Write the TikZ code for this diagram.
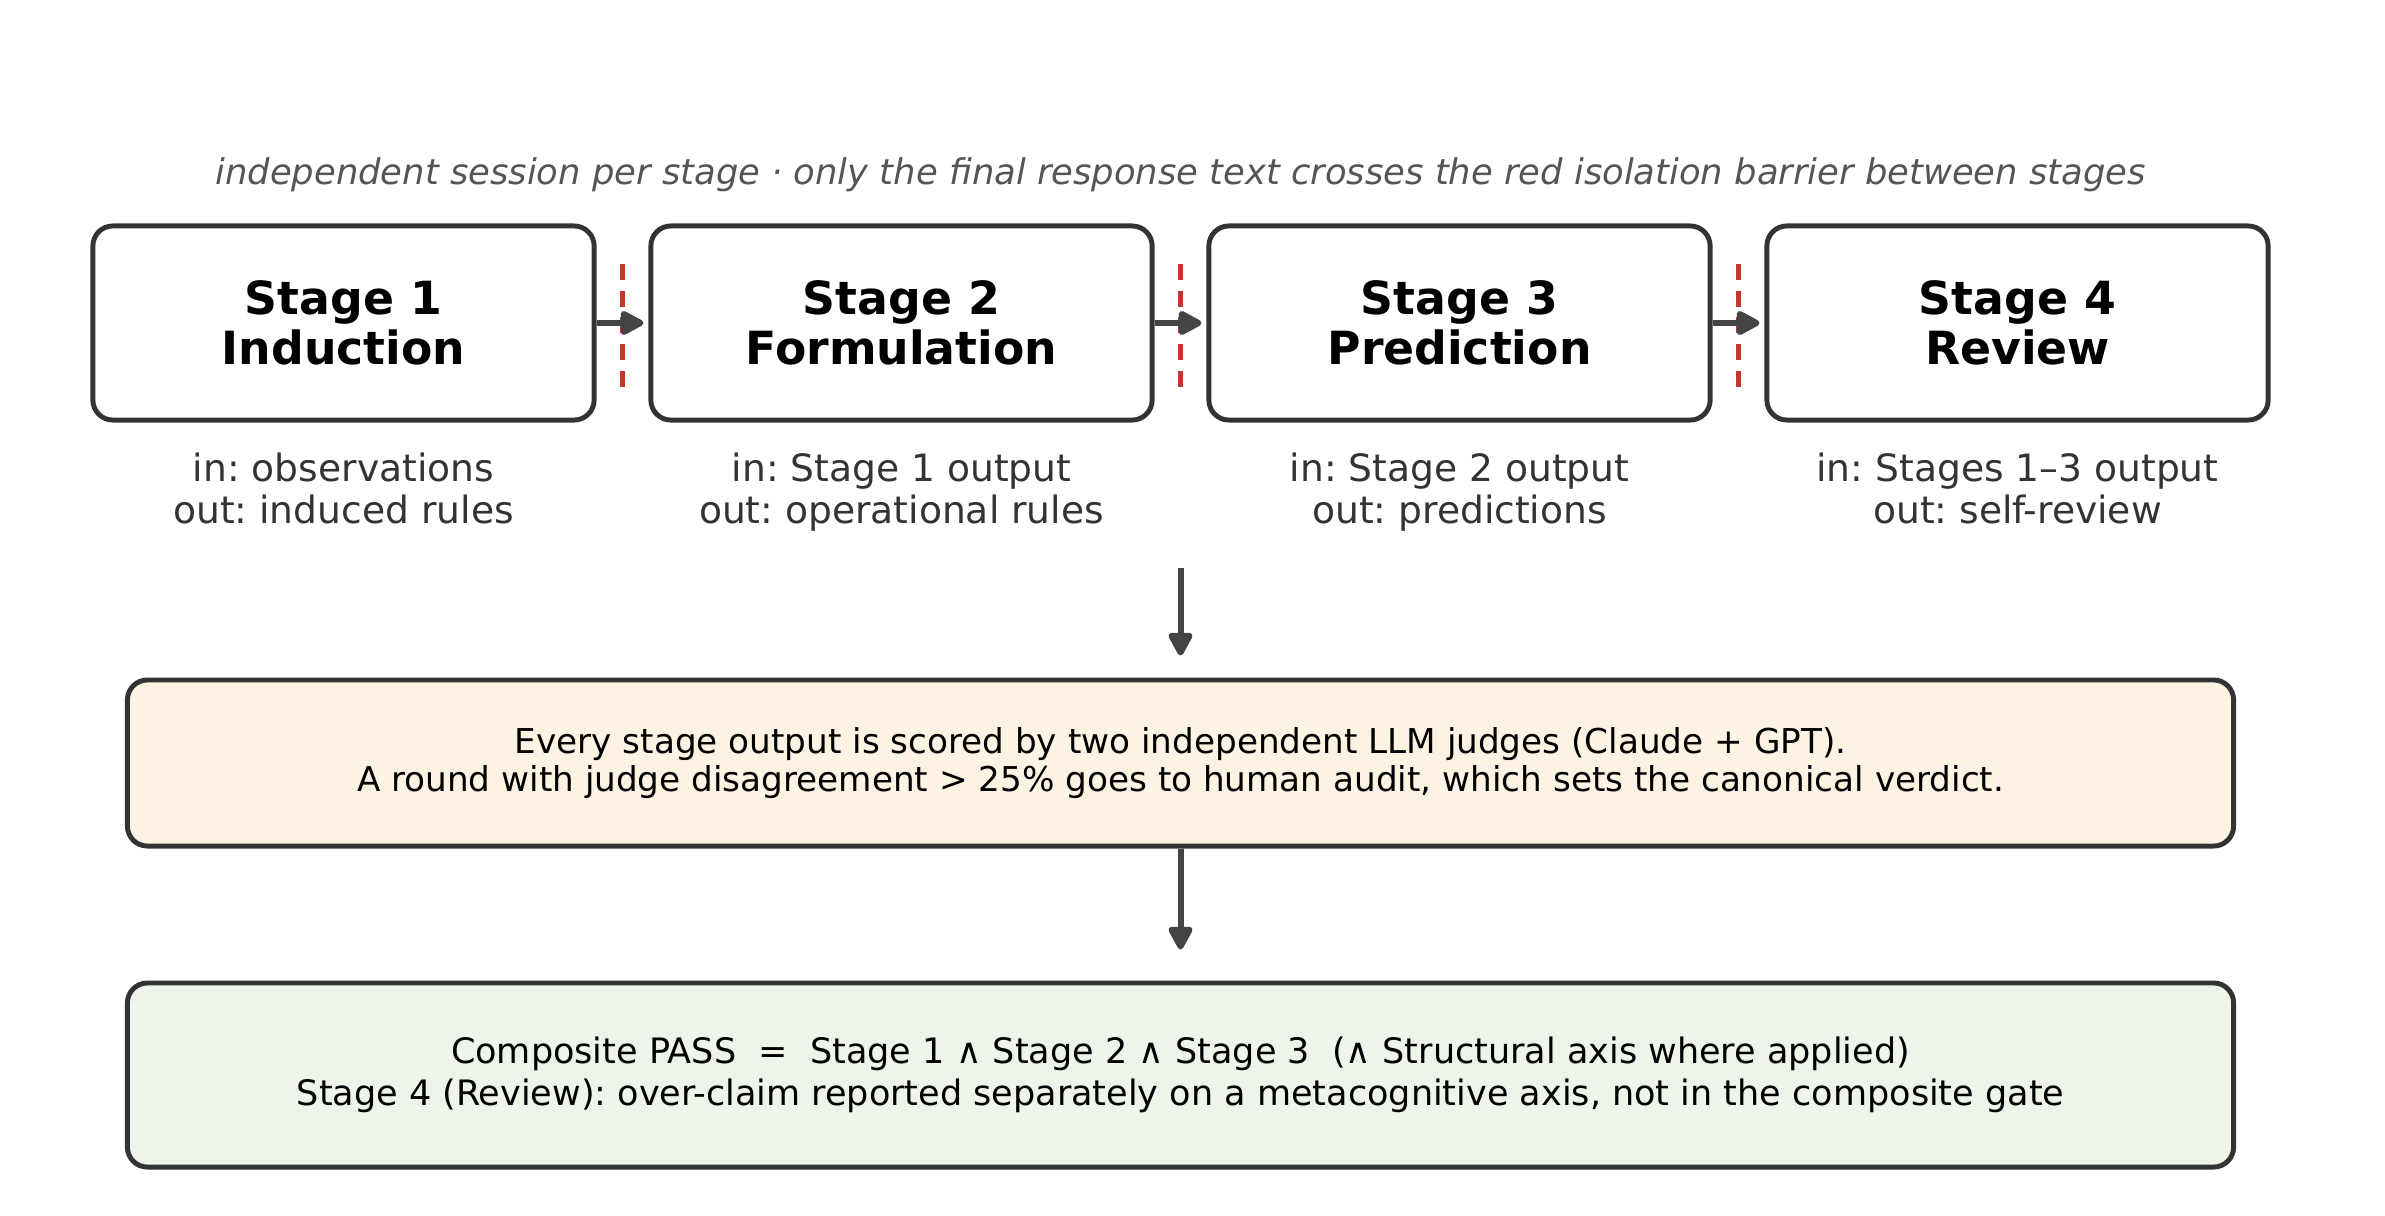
\documentclass[tikz,border=0pt]{standalone}
\usepackage{fontspec}
\setmainfont{DejaVu Sans}[BoldFont={DejaVu Sans Bold}, ItalicFont={DejaVu Sans Oblique}, BoldItalicFont={DejaVu Sans Bold Oblique}]
\usepackage{tikz}
\usetikzlibrary{arrows.meta}
\definecolor{edgegray}{HTML}{333333}
\definecolor{flowgray}{HTML}{444444}
\definecolor{notegray}{HTML}{555555}
\definecolor{barrierred}{HTML}{C0392B}
\definecolor{judgefill}{HTML}{FCF3E3}
\definecolor{passfill}{HTML}{EEF4EA}
\frenchspacing

\begin{document}
\begin{tikzpicture}[x=0.01cm, y=-0.01cm,
	stagebox/.style={draw=edgegray, line width=1.4pt, rounded corners=0.2cm, minimum width=5.01cm, minimum height=1.94cm, align=center, font=\fontsize{13}{14.3}\selectfont\bfseries},
	iolabel/.style={align=center, text=edgegray, font=\fontsize{10.7}{12.1}\selectfont},
	widebox/.style={draw=edgegray, line width=1.4pt, rounded corners=0.2cm, minimum width=21.05cm, align=center},
	flow/.style={draw=flowgray, line width=1.7pt, -{Triangle[length=7.5pt, width=7.5pt, round]}},
	wall/.style={draw=barrierred, line width=1.4pt, dash pattern=on 4.5pt off 3.1pt}]
	\useasboundingbox (0,0) rectangle (2385,1215);
	\node[text=notegray, font=\fontsize{10.05}{12}\selectfont\itshape] (note) at (1180.5,175) {independent session per stage · only the final response text crosses the red isolation barrier between stages};
	\foreach \i/\name in {1/Induction, 2/Formulation, 3/Prediction, 4/Review}
		\node[stagebox] (s\i) at ({343.5+558*(\i-1)},323) {Stage \i\\\name};
	\foreach \i/\src/\dst in {1/observations/induced rules, 2/Stage 1 output/operational rules, 3/Stage 2 output/predictions, 4/Stages 1–3 output/self-review}
		\node[iolabel] (io\i) at ({343.5+558*(\i-1)},494) {in: \src\strut\\out: \dst\strut};
	\foreach \x in {622.5, 1180.5, 1738.5}
		\draw[wall] (\x,264) -- (\x,388);
	\foreach \i/\j in {1/2, 2/3, 3/4}
		\draw[flow, shorten >=1.4pt] (s\i.east) -- (s\j.west);
	\node[widebox, fill=judgefill, minimum height=1.66cm, font=\fontsize{9.73}{10.9}\selectfont] (judge) at (1180.5,763) {Every stage output is scored by two independent LLM judges (Claude + GPT).\\A round with judge disagreement > 25\% goes to human audit, which sets the canonical verdict.};
	\node[widebox, fill=passfill, minimum height=1.84cm, font=\fontsize{9.96}{11.9}\selectfont] (pass) at (1180.5,1075) {Composite PASS\ \ =\ \ Stage 1 ∧ Stage 2 ∧ Stage 3\ \ (∧ Structural axis where applied)\\Stage 4 (Review): over-claim reported separately on a metacognitive axis, not in the composite gate};
	\coordinate (drop) at (1180.5,568);
	\draw[flow] (drop) -- ([yshift=0.22cm]judge.north);
	\draw[flow] (judge.south) -- ([yshift=0.31cm]pass.north);
\end{tikzpicture}
\end{document}
